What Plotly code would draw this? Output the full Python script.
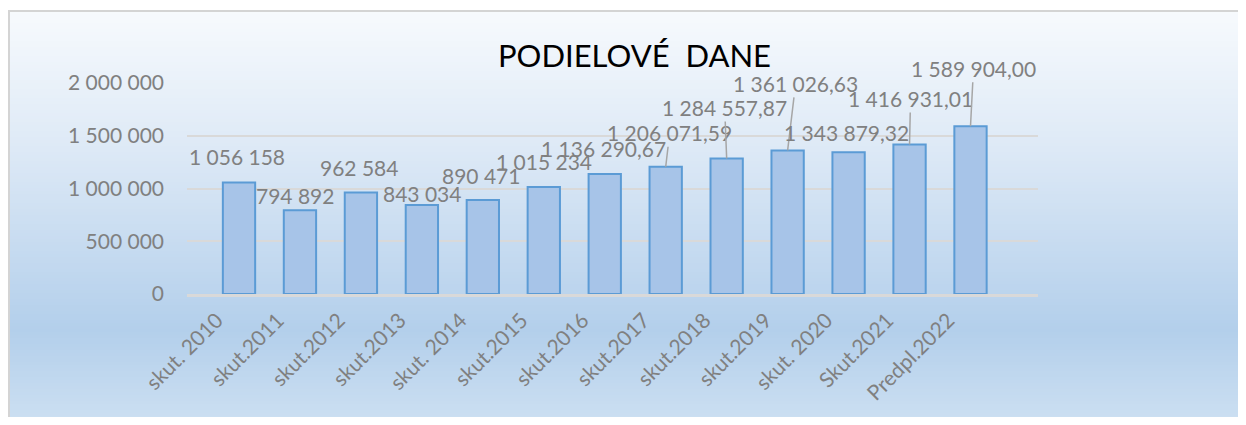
import plotly.graph_objects as go

# ---- data ----
categories = ["skut. 2010", "skut.2011", "skut.2012", "skut.2013", "skut. 2014",
              "skut.2015", "skut.2016", "skut.2017", "skut.2018", "skut.2019",
              "skut. 2020", "Skut.2021", "Predpl.2022"]
values = [1056158, 794892, 962584, 843034, 890471, 1015234, 1136290.67,
          1206071.59, 1284557.87, 1361026.63, 1343879.32, 1416931.01, 1589904.00]
value_labels = ["1 056 158", "794 892", "962 584", "843 034", "890 471", "1 015 234",
                "1 136 290,67", "1 206 071,59", "1 284 557,87", "1 361 026,63",
                "1 343 879,32", "1 416 931,01", "1 589 904,00"]
y_tickvals = [0, 500000, 1000000, 1500000, 2000000]
y_ticktext = ["0", "500 000", "1 000 000", "1 500 000", "2 000 000"]
title_text = "PODIELOVÉ\u00a0 DANE"

# ---- label placement (pixel offsets from bar top), leader line flags ----
label_dx = [-2, -5, -2, 0, -2, 0, -1, 4, -2, 8, -2, 1, 3]
label_dy = [-26, -15, -25, -12, -25, -25, -26, -34, -51, -67, -20, -46, -58]
label_leader = [False, False, False, False, False, False, False, True, True, True, False, True, True]

# ---- geometry (reference pixel coords; page body has an 8px margin) ----
OFF = 8
W, H = 1246 - 2 * OFF, 425 - 2 * OFF
L, R, T, B = 187 - OFF, 1038 - OFF, 83 - OFF, 294 - OFF
FONT = "Lato, 'Open Sans', sans-serif"
GRAY = "#808080"


def xp(px):
    return (px - OFF - L) / (R - L)


def yp(py):
    return (B - (py - OFF)) / (B - T)


def hex2rgb(h):
    h = h.lstrip("#")
    return tuple(int(h[i:i + 2], 16) for i in (0, 2, 4))


stops = [(11, "#f7fafd"), (150, "#dde9f6"), (330, "#b3cfeb"), (425, "#cde0f2")]


def grad_color(py):
    for (a, ca), (b, cb) in zip(stops[:-1], stops[1:]):
        if a <= py <= b:
            t = (py - a) / (b - a)
            c1, c2 = hex2rgb(ca), hex2rgb(cb)
            c = [round(c1[k] + (c2[k] - c1[k]) * t) for k in range(3)]
            return "rgb(%d,%d,%d)" % tuple(c)
    return stops[-1][1]


shapes = []
step = 3
py = 11
while py < 430:
    shapes.append(dict(type="rect", xref="paper", yref="paper", layer="below",
                       x0=xp(9), x1=xp(1260), y0=yp(py + step + 0.6), y1=yp(py),
                       fillcolor=grad_color(py + step / 2), line=dict(width=0)))
    py += step
# frame border
shapes.append(dict(type="rect", xref="paper", yref="paper", layer="below",
                   x0=xp(9), x1=xp(1270), y0=yp(440), y1=yp(11),
                   fillcolor="rgba(0,0,0,0)", line=dict(color="#d4d4d4", width=2)))

fig = go.Figure()
fig.add_trace(go.Bar(
    x=categories, y=values,
    marker=dict(color="#a7c4e8", line=dict(color="#5b9bd5", width=2)),
    width=0.53, hoverinfo="x+y"))

annotations = []
for c, v, t, dx, dy, lead in zip(categories, values, value_labels, label_dx, label_dy, label_leader):
    if lead:
        annotations.append(dict(x=c, y=v, xref="x", yref="y", text=t, showarrow=True,
                                arrowhead=0, arrowwidth=1.5, arrowcolor="#a6a6a6",
                                ax=dx, ay=dy, standoff=0,
                                font=dict(family=FONT, size=21, color=GRAY)))
    else:
        annotations.append(dict(x=c, y=v, xref="x", yref="y", text=t, showarrow=False,
                                xshift=dx, yshift=-dy, yanchor="middle",
                                font=dict(family=FONT, size=21, color=GRAY)))

annotations.append(dict(x=xp(634), y=yp(55), xref="paper", yref="paper", text=title_text,
                        showarrow=False, xanchor="center", yanchor="middle",
                        font=dict(family=FONT, size=31, color="#000000")))

fig.update_layout(
    width=W, height=H,
    margin=dict(l=L, r=W - R, t=T, b=H - B, pad=0),
    paper_bgcolor="white", plot_bgcolor="rgba(0,0,0,0)",
    showlegend=False, bargap=0.47,
    shapes=shapes, annotations=annotations,
    xaxis=dict(type="category", tickangle=-45, showgrid=False, showline=True,
               linecolor="#d9d9d9", linewidth=2.5, ticks="", ticklabelstandoff=3,
               ticklabelshift=-22,
               tickfont=dict(family=FONT, size=21, color=GRAY)),
    yaxis=dict(range=[0, 2000000], tickvals=y_tickvals, ticktext=y_ticktext,
               showgrid=True, gridcolor="#d9d9d9", gridwidth=2,
               zeroline=False, showline=False, ticks="", ticklabelstandoff=22,
               tickfont=dict(family=FONT, size=21, color=GRAY)),
)

fig.write_html("out.html")
